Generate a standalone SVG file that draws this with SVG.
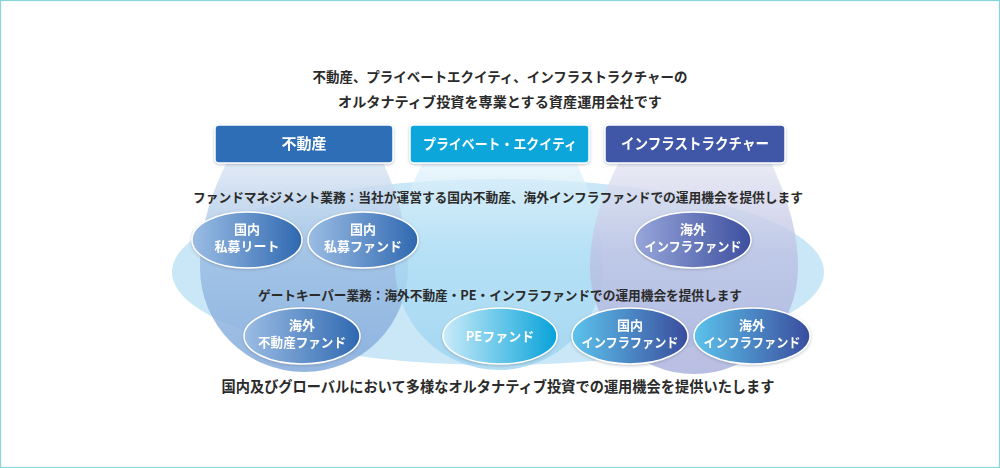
<svg xmlns="http://www.w3.org/2000/svg" width="1000" height="468" viewBox="0 0 1000 468">
<defs>
<style>
.t{font-family:"Noto Sans CJK JP","Noto Sans",sans-serif;fill:#2b2b2b;font-weight:700;text-anchor:middle}
.w{font-family:"Noto Sans CJK JP","Noto Sans",sans-serif;fill:#ffffff;font-weight:700;text-anchor:middle}
.box{stroke:#ffffff;stroke-width:1.5}
.ov{stroke:#ffffff;stroke-width:1.5}
</style>
<filter id="sh" x="-20%" y="-30%" width="140%" height="160%">
<feDropShadow dx="0" dy="1" stdDeviation="1.5" flood-color="#6a7890" flood-opacity="0.45"/>
</filter>
<linearGradient id="colL" x1="0" y1="0" x2="0" y2="1">
<stop offset="0" stop-color="#dfe8f4"/>
<stop offset="0.45" stop-color="#9cbee4"/>
<stop offset="1" stop-color="#82a9da"/>
</linearGradient>
<linearGradient id="colM" x1="0" y1="0" x2="0" y2="1">
<stop offset="0" stop-color="#e6f4fb"/>
<stop offset="0.45" stop-color="#afdef5"/>
<stop offset="1" stop-color="#9ad3f0"/>
</linearGradient>
<linearGradient id="colR" x1="0" y1="0" x2="0" y2="1">
<stop offset="0" stop-color="#e6e7f3"/>
<stop offset="0.45" stop-color="#bcc1e3"/>
<stop offset="1" stop-color="#a9b0dc"/>
</linearGradient>
<linearGradient id="gBlue" x1="0" y1="0" x2="1" y2="0">
<stop offset="0" stop-color="#9bbde4"/>
<stop offset="1" stop-color="#2f68b0"/>
</linearGradient>
<linearGradient id="gCyan" x1="0" y1="0" x2="1" y2="0">
<stop offset="0" stop-color="#c9ebf9"/>
<stop offset="1" stop-color="#07a2d9"/>
</linearGradient>
<linearGradient id="gInd" x1="0" y1="0" x2="1" y2="0">
<stop offset="0" stop-color="#97a6da"/>
<stop offset="1" stop-color="#3d4f9f"/>
</linearGradient>
<linearGradient id="gMix" x1="0" y1="0" x2="1" y2="0">
<stop offset="0" stop-color="#5cc3ec"/>
<stop offset="1" stop-color="#3a4c9d"/>
</linearGradient>
</defs>
<rect x="0.5" y="0.5" width="999" height="467" fill="#ffffff" stroke="#86d8d8" stroke-width="1.2"/>

<g id="background">
<ellipse cx="498" cy="272" rx="326" ry="93" fill="#c9e7f7"/>
<path d="M228,160 L382,160 C398,195 408,228 408,268 A104,104 0 0 1 200,268 C200,228 210,195 228,160 Z" fill="url(#colL)" opacity="0.85"/>
<path d="M424,160 L575,160 C592,195 603,228 603,266 A104,104 0 0 1 395,266 C395,228 406,195 424,160 Z" fill="url(#colM)" opacity="0.75"/>
<path d="M620,160 L770,160 C786,195 798,228 798,268 A104,106 0 0 1 590,268 C590,228 602,195 620,160 Z" fill="url(#colR)" opacity="0.82"/>
</g>

<g id="title">
<text class="t" x="500" y="82" font-size="14" textLength="375" lengthAdjust="spacingAndGlyphs">不動産、プライベートエクイティ、インフラストラクチャーの</text>
<text class="t" x="500" y="107" font-size="14" textLength="324" lengthAdjust="spacingAndGlyphs">オルタナティブ投資を専業とする資産運用会社です</text>
</g>

<g id="box-realestate" filter="url(#sh)">
<rect class="box" x="215" y="125" width="178" height="38" rx="4" fill="#2e6eb6"/>
<text class="w" x="304" y="149" font-size="15">不動産</text>
</g>
<g id="box-pe" filter="url(#sh)">
<rect class="box" x="410" y="125" width="179" height="38" rx="4" fill="#09a6da"/>
<text class="w" x="500" y="149" font-size="14" textLength="154" lengthAdjust="spacingAndGlyphs">プライベート・エクイティ</text>
</g>
<g id="box-infra" filter="url(#sh)">
<rect class="box" x="605" y="125" width="180" height="38" rx="4" fill="#3f56a6"/>
<text class="w" x="695" y="149" font-size="15" textLength="148" lengthAdjust="spacingAndGlyphs">インフラストラクチャー</text>
</g>

<g id="label-fm">
<text class="t" x="498" y="202" font-size="13" textLength="610" lengthAdjust="spacingAndGlyphs">ファンドマネジメント業務：当社が運営する国内不動産、海外インフラファンドでの運用機会を提供します</text>
</g>

<g id="oval-dom-reit" filter="url(#sh)">
<ellipse class="ov" cx="247" cy="240" rx="55" ry="28" fill="url(#gBlue)"/>
<text class="w" x="247" y="234" font-size="13">国内</text>
<text class="w" x="247" y="251" font-size="13">私募リート</text>
</g>
<g id="oval-dom-fund" filter="url(#sh)">
<ellipse class="ov" cx="363" cy="240" rx="55" ry="28" fill="url(#gBlue)"/>
<text class="w" x="363" y="234" font-size="13">国内</text>
<text class="w" x="363" y="251" font-size="13">私募ファンド</text>
</g>
<g id="oval-os-infra1" filter="url(#sh)">
<ellipse class="ov" cx="693" cy="240" rx="58" ry="28" fill="url(#gInd)"/>
<text class="w" x="693" y="234" font-size="13">海外</text>
<text class="w" x="693" y="251" font-size="13" textLength="97" lengthAdjust="spacingAndGlyphs">インフラファンド</text>
</g>

<g id="label-gk">
<text class="t" x="500" y="300" font-size="13" textLength="484" lengthAdjust="spacingAndGlyphs">ゲートキーパー業務：海外不動産・PE・インフラファンドでの運用機会を提供します</text>
</g>

<g id="oval-os-re" filter="url(#sh)">
<ellipse class="ov" cx="302" cy="336" rx="58" ry="28" fill="url(#gBlue)"/>
<text class="w" x="302" y="330" font-size="13">海外</text>
<text class="w" x="302" y="347" font-size="13" textLength="88" lengthAdjust="spacingAndGlyphs">不動産ファンド</text>
</g>
<g id="oval-pe" filter="url(#sh)">
<ellipse class="ov" cx="500" cy="336" rx="57" ry="28" fill="url(#gCyan)"/>
<text class="w" x="500" y="341" font-size="13">PEファンド</text>
</g>
<g id="oval-dom-infra" filter="url(#sh)">
<ellipse class="ov" cx="630" cy="336" rx="58" ry="28" fill="url(#gMix)"/>
<text class="w" x="630" y="330" font-size="13">国内</text>
<text class="w" x="630" y="347" font-size="13" textLength="97" lengthAdjust="spacingAndGlyphs">インフラファンド</text>
</g>
<g id="oval-os-infra2" filter="url(#sh)">
<ellipse class="ov" cx="752" cy="336" rx="58" ry="28" fill="url(#gMix)"/>
<text class="w" x="752" y="330" font-size="13">海外</text>
<text class="w" x="752" y="347" font-size="13" textLength="97" lengthAdjust="spacingAndGlyphs">インフラファンド</text>
</g>

<g id="footer">
<text class="t" x="498" y="392" font-size="15" textLength="553" lengthAdjust="spacingAndGlyphs">国内及びグローバルにおいて多様なオルタナティブ投資での運用機会を提供いたします</text>
</g>
<g id="connectors"></g>
</svg>
